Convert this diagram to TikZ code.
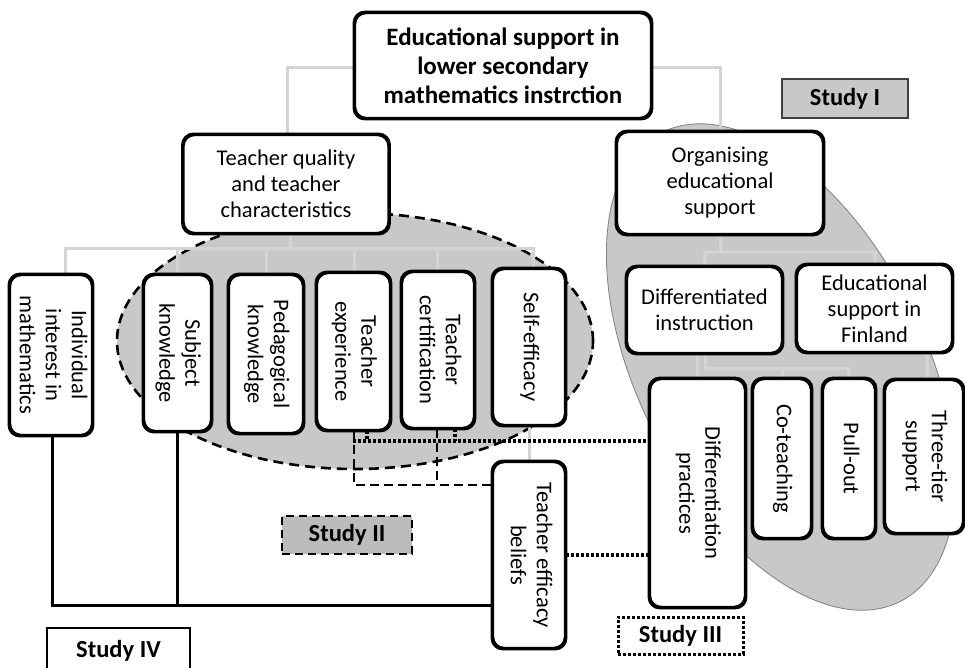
\documentclass[tikz,border=0pt]{standalone}
\usepackage{fontspec}
\setmainfont{Carlito}
\usepackage{graphicx}
\definecolor{ellgray}{RGB}{200,200,200}
\definecolor{conngray}{RGB}{212,212,212}
\definecolor{studytwo}{RGB}{188,188,188}
\newcommand{\vlabel}[1]{\rotatebox{-90}{\begin{tabular}{@{}c@{}}#1\end{tabular}}}
\begin{document}
\begin{tikzpicture}[x=1pt,y=-1pt,
  box/.style={draw=black, line width=2.4pt, rounded corners=11pt, fill=white,
    align=center, inner sep=0pt, font=\fontsize{22.5}{26}\selectfont},
  topbox/.style={box, font=\bfseries\fontsize{25}{29}\selectfont},
  conn/.style={draw=conngray, line width=3pt},
  solidline/.style={draw=black, line width=3pt},
  dashline/.style={draw=black, line width=2.8pt, dash pattern=on 9pt off 5pt},
  dotline/.style={draw=black, line width=3.2pt, dash pattern=on 3pt off 2pt},
  studylabel/.style={inner sep=0pt, font=\bfseries\fontsize{24.5}{26}\selectfont}
]
\useasboundingbox (0,0) rectangle (965,667);
\fill[white] (0,0) rectangle (965,667);

% background ellipses
\begin{scope}[shift={(781,367)}, rotate=-63]
  \draw[fill=ellgray, draw=gray, line width=0.8pt] (0,0) ellipse [x radius=263pt, y radius=143pt];
\end{scope}
\draw[fill=ellgray, draw=black, line width=2.6pt, dash pattern=on 10pt off 6pt]
  (355,341) ellipse [x radius=238pt, y radius=128pt];

% nodes
\node[topbox, minimum width=296pt, minimum height=105pt] (top) at (503,65.5)
  {Educational support in\\lower secondary\\mathematics instrction};
\node[box, minimum width=205pt, minimum height=98pt] (tq) at (286,184)
  {Teacher quality\\and teacher\\characteristics};
\node[box, minimum width=206pt, minimum height=102pt] (org) at (720,183)
  {Organising\\educational\\support};
\node[box, minimum width=155pt, minimum height=86pt] (di) at (704.5,310)
  {Differentiated\\instruction};
\node[box, minimum width=155pt, minimum height=87pt] (fin) at (874.5,308.5)
  {Educational\\support in\\Finland};

\node[box, minimum width=82pt, minimum height=160pt] (ind) at (51,355)
  {\vlabel{Individual\\interest in\\mathematics}};
\node[box, minimum width=67pt, minimum height=156pt] (sk) at (177.5,353)
  {\vlabel{Subject\\knowledge}};
\node[box, minimum width=74pt, minimum height=158pt] (pk) at (266,354)
  {\vlabel{Pedagogical\\knowledge}};
\node[box, minimum width=73pt, minimum height=157pt] (te) at (353.5,351.5)
  {\vlabel{Teacher\\experience}};
\node[box, minimum width=72pt, minimum height=156pt] (tc) at (438,350)
  {\vlabel{Teacher\\certification}};
\node[box, minimum width=72pt, minimum height=156pt] (se) at (529,347)
  {\vlabel{Self-efficacy}};
\node[box, minimum width=72pt, minimum height=186pt] (teb) at (529,555)
  {\vlabel{Teacher efficacy\\beliefs}};

\node[box, minimum width=95pt, minimum height=228pt] (dp) at (697.5,493)
  {\vlabel{Differentiation\\practices}};
\node[box, minimum width=58pt, minimum height=159pt] (co) at (782,458.5)
  {\vlabel{Co-teaching}};
\node[box, minimum width=52pt, minimum height=159pt] (po) at (849,458.5)
  {\vlabel{Pull-out}};
\node[box, minimum width=78pt, minimum height=153pt] (tt) at (924,456.5)
  {\vlabel{Three-tier\\support}};

% study labels
\node[studylabel, draw=black!75, line width=1.2pt, fill=ellgray,
  minimum width=126pt, minimum height=39pt] (s1) at (845,98.5) {Study I};
\node[studylabel, draw=black, line width=2.6pt, dash pattern=on 8pt off 5pt,
  fill=studytwo, minimum width=130pt, minimum height=38pt] (s2) at (347,535) {Study II};
\node[studylabel, draw=black, line width=3pt, dash pattern=on 3pt off 2pt,
  fill=white, minimum width=125pt, minimum height=37pt] (s3) at (680.5,635.5) {Study III};
\node[studylabel, draw=black, line width=2.6pt, fill=white,
  minimum width=143pt, minimum height=46pt] (s4) at (118.5,651) {Study IV};

% gray tree connectors
\draw[conn] (top.west |- 0,67) -- (287,67) -- (tq.north -| 287,0);
\draw[conn] (top.east |- 0,67) -- (720,67) -- (org.north);
\draw[conn] (tq.south -| 290,0) -- (290,248);
\draw[conn] (ind.north -| 65,0) -- (65,248) -- (533,248) -- (se.north -| 533,0);
\foreach \n/\x in {sk/177,pk/266,te/354,tc/437}
  \draw[conn] (\n.north -| \x,0) -- (\x,248);
\draw[conn] (org.south) -- (720,252);
\draw[conn] (di.north) -- (705,252) -- (875,252) -- (fin.north -| 875,0);
\draw[conn] (di.south -| 697,0) -- (dp.north -| 697,0);
\draw[conn] (di.south -| 705,0) -- (705,368) -- (848,368) -- (po.north -| 848,0);
\draw[conn] (co.north) -- (782,368);
\draw[conn] (fin.south -| 927,0) -- (tt.north -| 927,0);
\draw[conn] (se.south) -- (teb.north);

% black connectors
\draw[solidline] (ind.south -| 52,0) -- (52,605) -- (teb.west |- 0,605);
\draw[solidline] (sk.south) -- (177.5,605);
\draw[dashline] (te.south -| 354,0) -- (354,485) -- (teb.west |- 0,485);
\draw[dashline] (tc.south -| 437,0) -- (437,485);
\draw[dotline] (353,441) -- (dp.west |- 0,441);
\draw[dotline] (te.south -| 367,0) -- (367,441);
\draw[dotline] (tc.south -| 455,0) -- (455,441);
\draw[dotline] (teb.east |- 0,555) -- (dp.west |- 0,555);

% redraw box borders over connector ends
\foreach \n in {top,tq,org,di,fin,ind,sk,pk,te,tc,se,teb,dp,co,po,tt}
  \draw[line width=2.4pt, rounded corners=11pt] (\n.north west) rectangle (\n.south east);
\end{tikzpicture}
\end{document}
